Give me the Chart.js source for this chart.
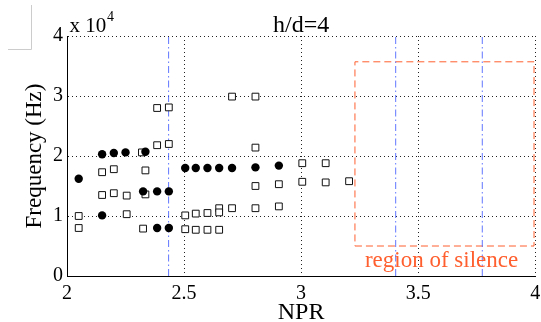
<!DOCTYPE html>
<html>
<head>
<meta charset="utf-8">
<title>h/d=4</title>
<script src="https://cdn.jsdelivr.net/npm/chart.js@4/dist/chart.umd.min.js"></script>
<style>
    html, body { margin: 0; padding: 0; background: #fff; }
</style>
</head>
<body>
<canvas id="freqChart" width="541" height="322"></canvas>
<script>
// tone frequencies (Hz), one pair of arrays per marker type
const circleNPR  = [2.05, 2.15, 2.15, 2.2, 2.25, 2.335, 2.325, 2.385, 2.435, 2.385, 2.435, 2.505, 2.55, 2.6, 2.65, 2.705, 2.805, 2.905];
const circleFreq = [16200, 20300, 10100, 20500, 20600, 20700, 14100, 14100, 14100, 8000, 8000, 18000, 18000, 18000, 18000, 18000, 18100, 18400];

const squareNPR  = [2.05, 2.05, 2.15, 2.15, 2.2, 2.2, 2.255, 2.255, 2.32, 2.335, 2.335, 2.325, 2.385, 2.385, 2.435, 2.435,
                    2.505, 2.505, 2.55, 2.55, 2.6, 2.6, 2.65, 2.65, 2.65, 2.705, 2.705, 2.805, 2.805, 2.805, 2.805,
                    2.905, 2.905, 3.005, 3.005, 3.105, 3.105, 3.205];
const squareFreq = [10000, 8000, 17300, 13500, 17800, 13800, 13400, 10300, 20600, 17600, 13600, 7900, 28000, 21800, 28100, 22000,
                    10100, 7800, 10400, 7700, 10500, 7700, 11300, 10600, 7700, 29900, 11300, 29900, 21400, 15000, 11300,
                    15300, 11600, 18800, 15700, 18800, 15600, 15800];

// vertical dash-dot markers and the silent zone
const dashDotNPR = [2.434, 3.404, 3.774];
const silenceNPR = [3.23, 3.995];
const silenceFreq = [5000, 35700];

const xTicks = [2, 2.5, 3, 3.5, 4];
const yTicks = [0, 10000, 20000, 30000, 40000];

const titleText = 'h/d=4';
const silenceLabel = 'region of silence';
const silenceColor = '#ff5f2e';
const serif = '"Liberation Serif", "Times New Roman", serif';

function toPoints(xs, ys) {
    return xs.map((x, i) => ({ x: x, y: ys[i] }));
}

const datasets = [];

datasets.push({
    label: 'filled',
    data: toPoints(circleNPR, circleFreq),
    pointStyle: 'circle',
    pointRadius: 4.2,
    backgroundColor: '#000',
    borderColor: '#000',
    borderWidth: 0
});

datasets.push({
    label: 'open',
    data: toPoints(squareNPR, squareFreq),
    pointStyle: 'rect',
    pointRadius: 4.8,
    backgroundColor: '#fff',
    borderColor: '#111',
    borderWidth: 1
});

dashDotNPR.forEach(npr => {
    datasets.push({
        label: 'npr ' + npr,
        data: toPoints([npr, npr], [0, 40000]),
        showLine: true,
        pointRadius: 0,
        borderColor: 'rgba(70, 95, 255, 0.85)',
        borderWidth: 1,
        borderDash: [7, 3, 1.5, 3]
    });
});

// the dashed box
const boxX = [silenceNPR[0], silenceNPR[1], silenceNPR[1], silenceNPR[0], silenceNPR[0]];
const boxY = [silenceFreq[0], silenceFreq[0], silenceFreq[1], silenceFreq[1], silenceFreq[0]];
datasets.push({
    label: 'silence',
    data: toPoints(boxX, boxY),
    showLine: true,
    pointRadius: 0,
    borderColor: silenceColor,
    borderWidth: 1,
    borderDash: [7, 4]
});

const annotations = {
    id: 'annotations',
    afterDraw(chart) {
        const ctx = chart.ctx;
        const area = chart.chartArea;
        const xs = chart.scales.x;
        const ys = chart.scales.y;
        ctx.save();

        // stray frame corner at the top left
        ctx.strokeStyle = '#cccccc';
        ctx.lineWidth = 1;
        ctx.beginPath();
        ctx.moveTo(8, 49.5);
        ctx.lineTo(31.5, 49.5);
        ctx.lineTo(31.5, 5);
        ctx.stroke();

        ctx.fillStyle = '#000';
        ctx.textBaseline = 'alphabetic';
        ctx.textAlign = 'center';
        ctx.font = '24px ' + serif;
        ctx.fillText(titleText, (area.left + area.right) / 2, 32);

        ctx.textAlign = 'left';
        ctx.font = '21px ' + serif;
        ctx.fillText('x 10', area.left + 2.5, 32);
        ctx.font = '14px ' + serif;
        ctx.fillText('4', area.left + 40, 21);

        ctx.fillStyle = silenceColor;
        ctx.textAlign = 'center';
        ctx.font = '23px ' + serif;
        ctx.fillText(silenceLabel, xs.getPixelForValue(3.6), ys.getPixelForValue(1500));

        ctx.restore();
    }
};

const ctx = document.getElementById('freqChart').getContext('2d');
new Chart(ctx, {
    type: 'scatter',
    data: { datasets: datasets },
    options: {
        responsive: false,
        devicePixelRatio: 1,
        animation: false,
        layout: { padding: { left: 0, right: 5, top: 36, bottom: 0 } },
        plugins: {
            legend: { display: false },
            tooltip: { enabled: false }
        },
        scales: {
            x: {
                type: 'linear',
                min: 2,
                max: 4,
                afterBuildTicks: scale => { scale.ticks = xTicks.map(v => ({ value: v })); },
                afterFit: scale => {
                    scale.height = 46;
                    scale.paddingLeft = 0;
                    scale.paddingRight = 0;
                },
                ticks: {
                    autoSkip: false,
                    maxRotation: 0,
                    color: '#000',
                    padding: 6,
                    font: { family: serif, size: 20 },
                    callback: value => String(value)
                },
                grid: { color: '#222', lineWidth: 1, drawTicks: false },
                border: { display: true, color: '#000', width: 1, dash: [1, 3] },
                title: {
                    display: true,
                    text: 'NPR',
                    color: '#000',
                    font: { family: serif, size: 24, lineHeight: 1 },
                    padding: { top: 0, bottom: -3 }
                }
            },
            y: {
                type: 'linear',
                min: 0,
                max: 40000,
                afterBuildTicks: scale => { scale.ticks = yTicks.map(v => ({ value: v })); },
                afterFit: scale => {
                    scale.width = 67;
                    scale.paddingTop = 0;
                    scale.paddingBottom = 0;
                },
                ticks: {
                    color: '#000',
                    padding: 4,
                    font: { family: serif, size: 20 },
                    callback: value => value / 10000
                },
                grid: { color: '#222', lineWidth: 1, drawTicks: false },
                border: { display: true, color: '#000', width: 1, dash: [1, 3] },
                title: {
                    display: true,
                    text: 'Frequency (Hz)',
                    color: '#000',
                    font: { family: serif, size: 23, lineHeight: 1 },
                    padding: { top: 23, bottom: 0 }
                }
            }
        }
    },
    plugins: [annotations]
});
</script>
</body>
</html>
